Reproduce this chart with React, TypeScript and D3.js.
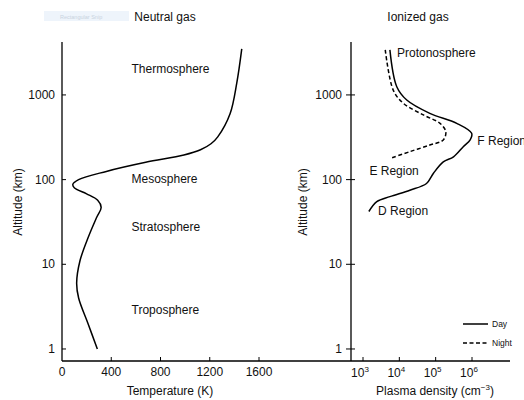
import React from 'react';
import * as d3 from 'd3';

// Neutral gas: temperature profile
const tempAlt = [1, 2, 4, 6, 11, 21, 36, 47, 57, 68, 80, 88, 100, 125, 160, 195, 225, 265, 320, 600, 1400, 3500];
const tempK = [287, 211, 135, 119, 146, 214, 282, 318, 290, 200, 100, 88, 135, 360, 680, 990, 1125, 1210, 1265, 1365, 1420, 1460];

// Ionized gas: plasma density profiles
const dayAlt = [3400, 1250, 870, 606, 462, 352, 294, 245, 186, 162, 119, 90, 75, 63, 55, 42];
const dayDensity = [5500, 8500, 16000, 69000, 380000, 980000, 890000, 575000, 310000, 162000, 87000, 56000, 19500, 5500, 2400, 1450];
const nightAlt = [3400, 1140, 795, 580, 462, 368, 294, 256, 214, 181];
const nightDensity = [4100, 6800, 13000, 46000, 132000, 190000, 162000, 69000, 19500, 6200];

const altTicks = [1, 10, 100, 1000];
const tempTicks = [0, 400, 800, 1200, 1600];
const densityTicks = [1e3, 1e4, 1e5, 1e6];

const leftRegions = ['Thermosphere', 'Mesosphere', 'Stratosphere', 'Troposphere'];
const leftRegionAlt = [2020, 102, 27.6, 2.9];
const rightRegions = ['Protonosphere', 'F Region', 'E Region', 'D Region'];
const rightRegionAlt = [3100, 286, 125, 42.6];
const rightRegionDensity = [8600, 1.4e6, 1.5e3, 2.6e3];

const FONT = 'Liberation Sans, Arial, Helvetica, sans-serif';

export default function App() {
  const W = 524, H = 400;
  const axisY = 361;
  const yScale = d3.scaleLog().domain([Math.pow(10, -0.142), Math.pow(10, 3.625)]).range([361, 42]);
  const xT = d3.scaleLinear().domain([0, 1600]).range([62, 259]);
  const xN = d3.scaleLog().domain([1e3, 1e6]).range([363, 472]);
  const leftX0 = 62, leftX1 = 351;
  const rightX0 = 351, rightX1 = 510;

  const tempLine = d3.line<number>()
    .x((_, i) => xT(tempK[i]))
    .y((a) => yScale(a))
    .curve(d3.curveCatmullRom.alpha(0.5));
  const dayLine = d3.line<number>()
    .x((_, i) => xN(dayDensity[i]))
    .y((a) => yScale(a))
    .curve(d3.curveCatmullRom.alpha(0.5));
  const nightLine = d3.line<number>()
    .x((_, i) => xN(nightDensity[i]))
    .y((a) => yScale(a))
    .curve(d3.curveCatmullRom.alpha(0.5));

  const sw = 1.3;
  return (
    <svg width={W} height={H} style={{ position: 'absolute', left: 0, top: 0, background: '#fff' }} fontFamily={FONT}>
      {/* faint snip artifact */}
      <rect x={44} y={11} width={85} height={10} fill="#eef4fb" />
      <text x={60} y={18.5} fontSize={5.5} fill="#c9d3de">Rectangular Snip</text>

      {/* titles */}
      <text x={165} y={21} fontSize={12} textAnchor="middle" fill="#111">Neutral gas</text>
      <text x={418} y={21} fontSize={12} textAnchor="middle" fill="#111">Ionized gas</text>

      {/* left panel axes */}
      <line x1={leftX0} y1={42} x2={leftX0} y2={axisY} stroke="#000" strokeWidth={sw} />
      <line x1={leftX0} y1={axisY} x2={leftX1} y2={axisY} stroke="#000" strokeWidth={sw} />
      {altTicks.map((t) => (
        <g key={'la' + t}>
          <line x1={leftX0} x2={leftX0 + 4} y1={yScale(t)} y2={yScale(t)} stroke="#000" strokeWidth={1} />
          <text x={leftX0 - 7} y={yScale(t) + 4} fontSize={12} textAnchor="end" fill="#111">{t}</text>
        </g>
      ))}
      {tempTicks.map((t) => (
        <g key={'lt' + t}>
          {t !== 0 && <line x1={xT(t)} x2={xT(t)} y1={axisY} y2={axisY - 4} stroke="#000" strokeWidth={1} />}
          <text x={xT(t)} y={376} fontSize={12} textAnchor="middle" fill="#111">{t}</text>
        </g>
      ))}
      <text x={170} y={395} fontSize={12} textAnchor="middle" fill="#111">Temperature (K)</text>
      <text transform={`translate(22,202) rotate(-90)`} fontSize={12} textAnchor="middle" fill="#111">Altitude (km)</text>

      <path d={tempLine(tempAlt) || ''} fill="none" stroke="#000" strokeWidth={1.5} />
      {leftRegions.map((r, i) => (
        <text key={r} x={131.5} y={yScale(leftRegionAlt[i]) + 4} fontSize={12} fill="#111">{r}</text>
      ))}

      {/* right panel axes */}
      <line x1={rightX0} y1={42} x2={rightX0} y2={axisY} stroke="#000" strokeWidth={sw} />
      <line x1={rightX0} y1={axisY} x2={rightX1} y2={axisY} stroke="#000" strokeWidth={sw} />
      {altTicks.map((t) => (
        <g key={'ra' + t}>
          <line x1={rightX0 - 5} x2={rightX0 + 4} y1={yScale(t)} y2={yScale(t)} stroke="#000" strokeWidth={1} />
          <text x={rightX0 - 9} y={yScale(t) + 4} fontSize={12} textAnchor="end" fill="#111">{t}</text>
        </g>
      ))}
      {densityTicks.map((t) => (
        <g key={'rt' + t}>
          <line x1={xN(t)} x2={xN(t)} y1={axisY} y2={axisY - 4} stroke="#000" strokeWidth={1} />
          <text x={xN(t) - 3} y={377} fontSize={12} textAnchor="middle" fill="#111">
            10<tspan fontSize={8} dy={-5}>{Math.round(Math.log10(t))}</tspan>
          </text>
        </g>
      ))}
      <text x={435} y={395} fontSize={12} textAnchor="middle" fill="#111">
        Plasma density (cm<tspan fontSize={8} dy={-5}>−3</tspan><tspan dy={5}>)</tspan>
      </text>
      <text transform={`translate(307,202) rotate(-90)`} fontSize={12} textAnchor="middle" fill="#111">Altitude (km)</text>

      <path d={nightLine(nightAlt) || ''} fill="none" stroke="#000" strokeWidth={1.5} strokeDasharray="4,2.5" />
      <path d={dayLine(dayAlt) || ''} fill="none" stroke="#000" strokeWidth={1.5} />
      {rightRegions.map((r, i) => (
        <text key={r} x={xN(rightRegionDensity[i])} y={yScale(rightRegionAlt[i]) + 4} fontSize={12} fill="#111">{r}</text>
      ))}

      {/* legend */}
      <line x1={463} x2={488} y1={324} y2={324} stroke="#000" strokeWidth={1.5} />
      <text x={492} y={327} fontSize={8.5} fill="#111">Day</text>
      <line x1={463} x2={488} y1={343} y2={343} stroke="#000" strokeWidth={1.5} strokeDasharray="4,2.5" />
      <text x={492} y={346} fontSize={8.5} fill="#111">Night</text>
    </svg>
  );
}
